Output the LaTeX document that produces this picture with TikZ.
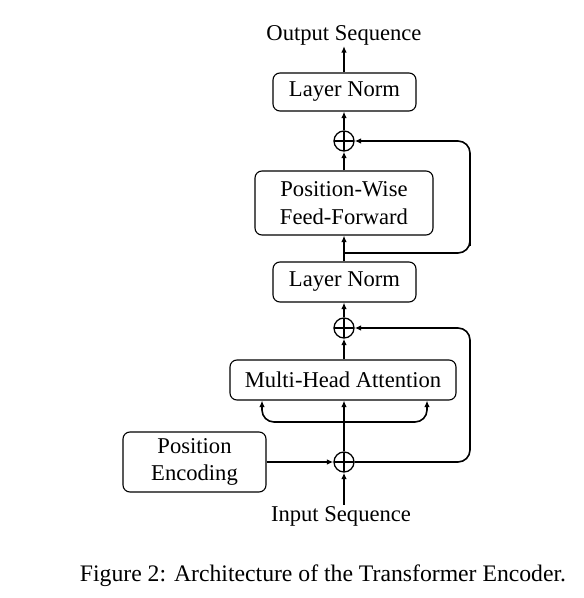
\documentclass[tikz,border=0pt]{standalone}
\usepackage{fontspec}
\setmainfont{Liberation Serif}
\usetikzlibrary{arrows.meta}
\begin{document}
\begin{tikzpicture}[x=1pt,y=1pt,
  blk/.style={draw, line width=1.1pt, rounded corners=7pt, align=center, inner sep=0pt, font=\fontsize{22.6}{27.5}\selectfont},
  lbl/.style={inner sep=1pt, font=\fontsize{22.6}{25}\selectfont},
  caplbl/.style={inner sep=1pt, font=\fontsize{23.7}{26}\selectfont},
  addc/.style={draw, circle, line width=1.3pt, minimum size=20pt, inner sep=0pt, path picture={\draw[line width=1.1pt] (path picture bounding box.north) -- (path picture bounding box.south) (path picture bounding box.west) -- (path picture bounding box.east);}},
  conn/.style={line width=1.6pt, -{Latex[length=6.5pt,width=5.5pt]}},
  link/.style={line width=1.6pt}
]
\useasboundingbox (0,0) rectangle (584,598);
% nodes (y = 598 - pixel y)
\node[lbl] (out) at (344,563) {Output Sequence};
\node[blk, minimum width=143pt, minimum height=38pt] (ln2) at (344.5,506) {Layer Norm};
\node[addc] (add3) at (344,457) {};
\node[blk, minimum width=178pt, minimum height=64pt] (ff) at (344,395) {Position-Wise\\Feed-Forward};
\coordinate (j2) at (344,345);
\node[blk, minimum width=143pt, minimum height=40pt] (ln1) at (344.5,316) {Layer Norm};
\node[addc] (add2) at (344,270) {};
\node[blk, minimum width=226pt, minimum height=40pt] (mha) at (343,218) {Multi-Head Attention};
\coordinate (j1) at (344,176);
\node[addc] (add1) at (344,136) {};
\node[blk, minimum width=143pt, minimum height=60pt] (pe) at (194.5,136) {Position\\Encoding};
\node[lbl] (in) at (341,82) {Input Sequence};
\coordinate (r1) at (470,136);
\coordinate (r2) at (470,457);
\coordinate (fl) at (262,176);
\coordinate (fr) at (427,176);
% connectors
\draw[conn] (add1.south |- in.north) -- (add1.south);
\draw[conn] (pe.east) -- (add1.west);
\draw[conn] (add1.north) -- (add1.north |- mha.south);
\draw[conn, rounded corners=12pt] (j1) -| (fl |- mha.south);
\draw[conn, rounded corners=12pt] (j1) -| (fr |- mha.south);
\draw[conn, rounded corners=12pt] (add1.east) -- (r1) |- (add2.east);
\draw[conn] (add2.north |- mha.north) -- (add2.south);
\draw[conn] (add2.north) -- (add2.north |- ln1.south);
\draw[conn] (add2.north |- ln1.north) -- (add2.north |- ff.south);
\draw[conn, rounded corners=12pt] (j2) -| (r2 |- j2) -- (r2) -- (add3.east);
\draw[conn] (add3.south |- ff.north) -- (add3.south);
\draw[conn] (add3.north) -- (add3.north |- ln2.south);
\draw[conn] (add3.north |- ln2.north) -- (add3.north |- out.south);
% caption
\node[caplbl] (cap) at (323,22) {Figure 2: Architecture of the Transformer Encoder.};
\end{tikzpicture}
\end{document}
